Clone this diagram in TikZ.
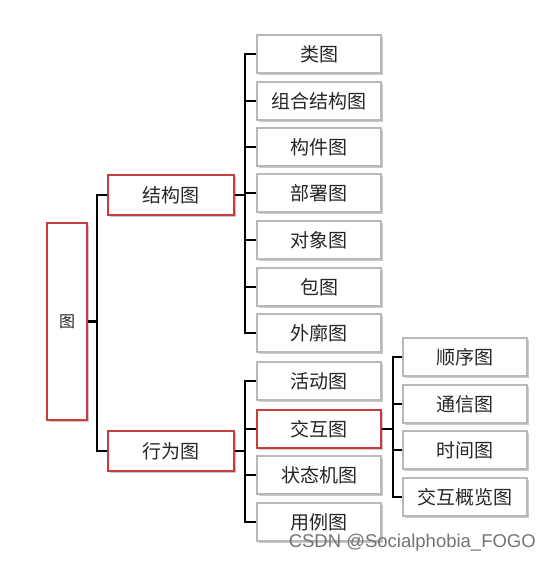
\documentclass[tikz,border=0pt]{standalone}
\usepackage{fontspec}
\setmainfont{Liberation Sans}
\newfontfamily\cjk{Noto Sans CJK SC}
\usetikzlibrary{shadows}
\definecolor{boxgray}{RGB}{185,185,185}
\definecolor{boxred}{RGB}{200,60,60}
\tikzset{
  leaf/.style={draw=boxgray, line width=1.2pt, fill=white, minimum width=124pt, minimum height=38pt,
    inner sep=0pt, text=black!85, font=\cjk\fontsize{19}{19}\selectfont,
    drop shadow={shadow xshift=1.5pt, shadow yshift=-1.5pt, fill=black!35, opacity=0.6}},
  mid/.style={leaf, draw=boxred, line width=1.2pt, minimum width=126pt, minimum height=40pt},
  conn/.style={line width=2.8pt, black},
}
\begin{document}
\begin{tikzpicture}[x=1pt,y=-1pt]
\useasboundingbox (0,0) rectangle (550,563);
% root
\node[mid, minimum width=40pt, minimum height=197pt, font=\cjk\fontsize{16}{16}\selectfont] (root) at (67,321.5) {图};
% level 1
\node[mid] (jg) at (171,195) {结构图};
\node[mid] (xw) at (171,451) {行为图};
% structure children
\node[leaf] (s1) at (319,54) {类图};
\node[leaf] (s2) at (319,101) {组合结构图};
\node[leaf] (s3) at (319,147) {构件图};
\node[leaf] (s4) at (319,193) {部署图};
\node[leaf] (s5) at (319,240) {对象图};
\node[leaf] (s6) at (319,287) {包图};
\node[leaf] (s7) at (319,333) {外廓图};
% behaviour children
\node[leaf] (b1) at (319,381) {活动图};
\node[mid, minimum width=124pt, minimum height=38pt] (b2) at (319,429) {交互图};
\node[leaf] (b3) at (319,475) {状态机图};
\node[leaf] (b4) at (319,522) {用例图};
% interaction children
\node[leaf] (i1) at (465,357) {顺序图};
\node[leaf] (i2) at (465,404) {通信图};
\node[leaf] (i3) at (465,450) {时间图};
\node[leaf] (i4) at (465,497) {交互概览图};
% connectors
\coordinate (r0) at (97,0);
\draw[conn] (root.east) -- (root.east -| r0);
\draw[conn] (jg.west) -| (r0 |- jg.west) -- (r0 |- xw.west) -- (xw.west);
\coordinate (c1) at (245,0);
\draw[conn] (jg.east) -- (jg.east -| c1);
\draw[conn] (s1.west) -| (c1 |- s1.west) -- (c1 |- s7.west) -- (s7.west);
\foreach \n in {s2,s3,s4,s5,s6} \draw[conn] (\n.west) -- (c1 |- \n.west);
\draw[conn] (xw.east) -- (xw.east -| c1);
\draw[conn] (b1.west) -| (c1 |- b1.west) -- (c1 |- b4.west) -- (b4.west);
\foreach \n in {b2,b3} \draw[conn] (\n.west) -- (c1 |- \n.west);
\coordinate (c2) at (393,0);
\draw[conn] (b2.east) -- (b2.east -| c2);
\draw[conn] (i1.west) -| (c2 |- i1.west) -- (c2 |- i4.west) -- (i4.west);
\foreach \n in {i2,i3} \draw[conn] (\n.west) -- (c2 |- \n.west);
% watermark
\node[anchor=east, text=black!55, font=\fontsize{18.5}{18.5}\selectfont, inner sep=0pt] (wm) at (536,543) {CSDN @Socialphobia\_FOGO};
\end{tikzpicture}
\end{document}
